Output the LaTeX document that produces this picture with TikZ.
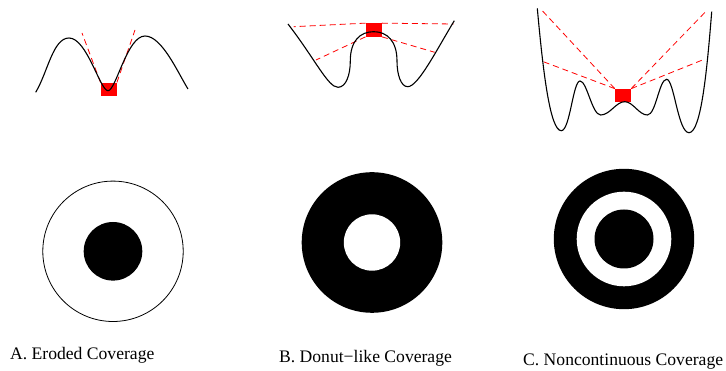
\documentclass[tikz,border=0pt]{standalone}
\usepackage{fontspec}
\setmainfont{Liberation Serif}
\usetikzlibrary{positioning}

\begin{document}
\begin{tikzpicture}[
        x=1pt, y=1pt,
        robot/.style={rectangle, fill=red, draw=none, inner sep=0pt, minimum width=16pt, minimum height=13.3pt},
        ray/.style={draw=red, line width=0.8pt, dash pattern=on 6pt off 4pt},
        landscape/.style={draw=black, line width=1.1pt},
        caption/.style={anchor=base west, inner sep=0pt, font=\fontsize{17.6}{20}\selectfont}
    ]
        \useasboundingbox (0,0) rectangle (726,371);

        % robots on the landscapes
        \node[robot] (sqA) at (108.7,281.7) {};
        \node[robot] (sqB) at (373.7,341) {};
        \node[robot] (sqC) at (623,275.5) {};

        % ends of the view rays
        \coordinate (a1) at (82,338);
        \coordinate (a2) at (135,341);
        \coordinate (b1) at (293.7,344.3);
        \coordinate (b2) at (453.7,347);
        \coordinate (b3) at (316,311);
        \coordinate (b4) at (434.7,318.7);
        \coordinate (c1) at (540.7,362);
        \coordinate (c2) at (706.3,360);
        \coordinate (c3) at (543.3,309.3);
        \coordinate (c4) at (705,312);

        \draw[ray] (sqA.north west) -- (a1);
        \draw[ray] (sqA.north east) -- (a2);
        \draw[ray] (sqB.north west) -- (b1);
        \draw[ray] (sqB.north east) -- (b2);
        \draw[ray] (sqB.south west) -- (b3);
        \draw[ray] (sqB.south east) -- (b4);
        \draw[ray] (sqC.north west) -- (c1);
        \draw[ray] (sqC.north east) -- (c2);
        \draw[ray] (sqC.north west) -- (c3);
        \draw[ray] (sqC.north east) -- (c4);

        % landscapes
        \draw[landscape] (35.7,278.7) .. controls (47.7,298.7) and (53,333) .. (69,333)
            .. controls (87,333) and (100,280.3) .. (108,280.3)
            .. controls (116,280.3) and (127,335) .. (145,335)
            .. controls (162,335) and (178,298) .. (188,282);

        \draw[landscape] (288,347) .. controls (315,312) and (328,283.7) .. (338,283.7)
            .. controls (346,283.7) and (350.3,296) .. (350.3,310)
            .. controls (350.3,330) and (360,339.3) .. (373.7,339.3)
            .. controls (387,339.3) and (397,330) .. (397,310)
            .. controls (397,296) and (401,284.3) .. (407.7,284.3)
            .. controls (418,284.3) and (436,320) .. (454.3,350.3);

        \draw[landscape] (537.3,362.7) .. controls (543,300) and (550,240.3) .. (561.3,240.3)
            .. controls (570,240.3) and (573,290) .. (580,290)
            .. controls (587,290) and (592,256) .. (600.7,256)
            .. controls (610,256) and (616,269.3) .. (624.7,269.3)
            .. controls (633,269.3) and (639,256) .. (647.3,256)
            .. controls (656,256) and (659,291.7) .. (666.7,291.7)
            .. controls (674,291.7) and (678,238.3) .. (689,238.3)
            .. controls (701,238.3) and (707,300) .. (711.7,359.3);

        % coverage maps
        \draw[line width=0.8pt] (113,119.7) circle (70.2);
        \fill[black] (113,119.7) circle (29.3);

        \fill[black] (372,128.5) circle (70.3);
        \fill[white] (372,128.5) circle (28.2);

        \fill[black] (624,132) circle (70.2);
        \fill[white] (624,132) circle (47.3);
        \fill[black] (624,132) circle (29.5);

        % captions
        \node[caption] (capA) at (10,11) {A. Eroded Coverage};
        \node[caption] (capB) at (279,8) {B. Donut−like Coverage};
        \node[caption] (capC) at (523,5) {C. Noncontinuous Coverage};
    \end{tikzpicture}
\end{document}
